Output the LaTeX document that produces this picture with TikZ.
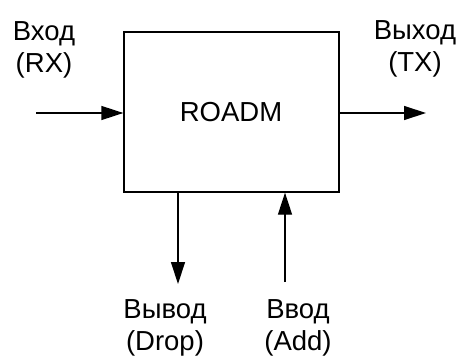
\documentclass[tikz,border=0pt]{standalone}
\usepackage{fontspec}
\setmainfont{Liberation Sans}
\usetikzlibrary{arrows.meta}
\begin{document}
\begin{tikzpicture}[x=1pt,y=-1pt,
  lbl/.style={align=center,font=\fontsize{27.5}{32}\selectfont,inner sep=0pt,anchor=base},
  conn/.style={line width=1.3pt,-{Triangle[length=22pt,width=14pt]}},
  blk/.style={draw,line width=1.3pt,minimum width=215pt,minimum height=160pt,inner sep=0pt}]
\useasboundingbox (0,0) rectangle (464,356);
\node[blk] (roadm) at (231.5,112) {};
\node[font=\fontsize{27.5}{32}\selectfont,inner sep=0pt] (t) at (231,112) {ROADM};
\coordinate (inL) at (36,113);
\coordinate (outR) at (426,113);
\coordinate (dropE) at (178,284);
\coordinate (addS) at (285,282);
\draw[conn] (inL) -- (inL -| roadm.west);
\draw[conn] (outR -| roadm.east) -- (outR);
\draw[conn] (dropE |- roadm.south) -- (dropE);
\draw[conn] (addS) -- (addS |- roadm.south);
\node[lbl] (rx) at (44,72) {Вход\\(RX)};
\node[lbl] (tx) at (415,71) {Выход\\(TX)};
\node[lbl] (drop) at (165,350) {Вывод\\(Drop)};
\node[lbl] (add) at (298,350) {Ввод\\(Add)};
\end{tikzpicture}
\end{document}
